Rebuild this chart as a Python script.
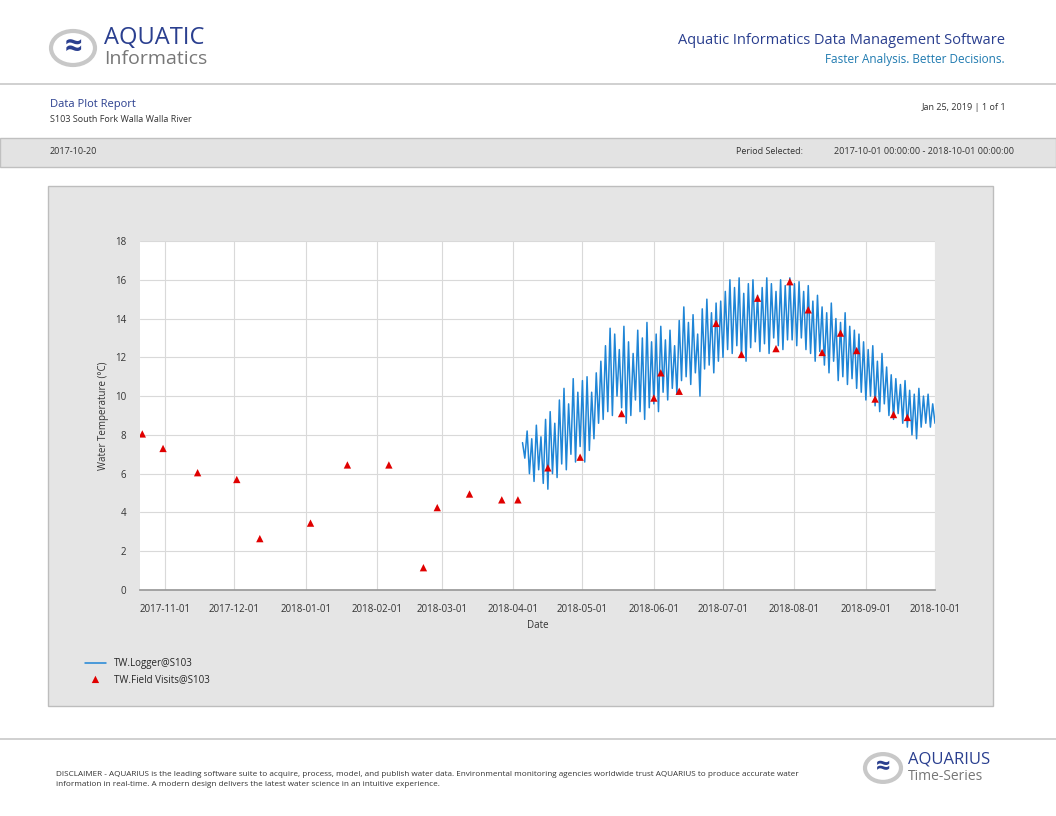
import numpy as np, pandas as pd, matplotlib
matplotlib.use("Agg")
import matplotlib.pyplot as plt, matplotlib.dates as mdates, seaborn as sns
from matplotlib.patches import Rectangle, Circle

visit_dates = ["2017-10-22","2017-10-31","2017-11-15","2017-12-02","2017-12-12","2018-01-03","2018-01-19",
 "2018-02-06","2018-02-21","2018-02-27","2018-03-13","2018-03-27","2018-04-03","2018-04-16","2018-04-30",
 "2018-05-18","2018-06-01","2018-06-04","2018-06-12","2018-06-28","2018-07-09","2018-07-16","2018-07-24",
 "2018-07-30","2018-08-07","2018-08-13","2018-08-21","2018-08-28","2018-09-05","2018-09-13","2018-09-19"]
visit_vals = [8.05,7.3,6.05,5.7,2.65,3.45,6.45,6.45,1.15,4.25,4.95,4.65,4.65,6.3,6.85,
 9.1,9.9,11.2,10.25,13.75,12.15,15.05,12.45,15.9,14.45,12.25,13.25,12.35,9.85,9.05,8.9]

logger_start = "2018-04-05"
logger_highs = [7.6,8.2,7.8,8.5,7.9,8.8,9.2,8.6,9.8,10.4,9.6,10.9,10.2,
 10.8,11.0,10.2,11.2,11.8,12.6,13.5,13.2,12.4,13.6,12.8,12.2,13.4,13.0,13.8,
 12.8,13.2,13.6,12.9,13.4,12.6,13.9,14.6,13.8,14.2,13.2,14.5,15.0,14.3,14.8,
 14.9,15.4,16.0,15.6,16.1,15.3,15.8,16.0,15.2,15.6,16.1,15.8,15.4,16.0,15.7,
 16.1,15.8,15.9,15.4,15.7,14.9,15.2,14.6,14.3,14.8,14.0,13.8,14.3,13.6,13.4,
 13.2,12.8,12.4,12.6,11.8,12.2,11.5,11.1,10.9,10.6,10.8,10.3,10.1,10.4,10.0,
 10.1,9.6]
logger_lows = [6.8,6.0,5.6,6.2,5.5,5.2,6.0,5.8,6.5,6.2,7.0,6.6,7.4,
 6.6,7.2,7.8,8.6,8.8,9.2,9.0,10.0,9.4,8.6,9.0,9.8,9.2,8.8,9.4,
 9.6,9.2,10.2,9.8,10.4,10.1,10.8,11.0,10.6,11.2,10.0,11.4,11.6,11.2,11.8,
 12.0,12.4,12.2,12.6,12.0,11.8,12.5,12.8,12.3,12.7,12.2,13.0,12.6,12.4,12.9,
 12.9,12.6,13.0,12.4,12.2,11.8,12.3,11.6,11.2,11.8,10.8,11.0,10.6,10.9,10.4,
 10.2,9.8,10.0,9.5,9.2,9.6,9.0,8.8,9.1,8.6,8.4,8.0,7.8,8.4,8.6,
 8.4,8.6]

vals = [v for pair in zip(logger_highs, logger_lows) for v in pair]
logger = pd.DataFrame({"t": pd.date_range(logger_start, periods=len(vals), freq="D"), "v": vals})
visits = pd.DataFrame({"t": pd.to_datetime(visit_dates), "v": visit_vals})

sns.set_theme(style="whitegrid")
plt.rcParams["font.family"] = ["Open Sans", "DejaVu Sans"]
fig = plt.figure(figsize=(10.56, 8.16), dpi=100)
W, H = 1056, 816
def fx(x): return x / W
def fy(y): return 1 - y / H

# header
fig.add_artist(plt.Line2D([0, 1], [fy(84)]*2, color="#c8c8c8", lw=1.2))
fig.add_artist(Circle((fx(73), fy(48)), 22/W, transform=fig.transFigure, fc="white", ec="#c8c8c8", lw=3))
fig.text(fx(73), fy(48), "≈", color="#2a3f8f", fontsize=22, ha="center", va="center", fontweight="bold")
fig.text(fx(104), fy(38), "AQUATIC", color="#2a3f8f", fontsize=17, va="center")
fig.text(fx(104), fy(59), "Informatics", color="#777777", fontsize=14, va="center")
fig.text(fx(1005), fy(41), "Aquatic Informatics Data Management Software", color="#2a3f8f", fontsize=10.5, ha="right", va="center")
fig.text(fx(1005), fy(60), "Faster Analysis. Better Decisions.", color="#1f7ab0", fontsize=8.5, ha="right", va="center")
fig.text(fx(50), fy(104), "Data Plot Report", color="#2a3f8f", fontsize=8, va="center")
fig.text(fx(50), fy(119), "S103 South Fork Walla Walla River", color="#333", fontsize=6.5, va="center")
fig.text(fx(1006), fy(107), "Jan 25, 2019 | 1 of 1", color="#333", fontsize=6.5, ha="right", va="center")
fig.add_artist(Rectangle((0, fy(167)), 1, (167-138)/H, transform=fig.transFigure, fc="#e3e3e3", ec="#c0c0c0", lw=1, zorder=-5))
fig.text(fx(50), fy(152), "2017-10-20", color="#333", fontsize=6.5, va="center")
fig.text(fx(803), fy(152), "Period Selected:", color="#333", fontsize=6.5, ha="right", va="center")
fig.text(fx(1014), fy(152), "2017-10-01 00:00:00 - 2018-10-01 00:00:00", color="#333", fontsize=6.5, ha="right", va="center")

# panel
fig.add_artist(Rectangle((fx(48), fy(706)), (993-48)/W, (706-186)/H, transform=fig.transFigure, fc="#e5e5e5", ec="#bdbdbd", lw=1, zorder=-5))

ax = fig.add_axes([fx(140), fy(590), (935-140)/W, (590-241)/H])
ax.set_zorder(2)
ax.set_facecolor("white")
sns.lineplot(data=logger, x="t", y="v", ax=ax, color="#1f85d6", lw=1.1, label="TW.Logger@S103", sort=False)
sns.scatterplot(data=visits, x="t", y="v", ax=ax, color="#e00000", marker="^", s=28, edgecolor="none", label="TW.Field Visits@S103", zorder=5)
ax.set_xlim(pd.Timestamp("2017-10-21"), pd.Timestamp("2018-10-01"))
ax.set_ylim(0, 18)
ax.set_yticks(range(0, 19, 2))
ax.xaxis.set_major_locator(mdates.MonthLocator(bymonth=range(1, 13)))
ax.xaxis.set_major_formatter(mdates.DateFormatter("%Y-%m-%d"))
ax.tick_params(labelsize=7, colors="#333", pad=4)
ax.grid(color="#d9d9d9", lw=0.8)
for s in ax.spines.values():
    s.set_visible(False)
ax.spines["bottom"].set_visible(True); ax.spines["bottom"].set_color("#999")
ax.set_xlabel("Date", fontsize=7, color="#333")
ax.set_ylabel("Water Temperature (°C)", fontsize=7, color="#333")
axw = (935-140)/W
ax.legend(loc="upper left", bbox_to_anchor=((fx(76) - fx(140)) / axw, -0.17),
          frameon=False, fontsize=7, handlelength=2.2, labelspacing=0.5)

# footer
fig.add_artist(plt.Line2D([0, 1], [fy(739)]*2, color="#c8c8c8", lw=1.2))
fig.text(fx(56), fy(779), "DISCLAIMER - AQUARIUS is the leading software suite to acquire, process, model, and publish water data. Environmental monitoring agencies worldwide trust AQUARIUS to produce accurate water\ninformation in real-time. A modern design delivers the latest water science in an intuitive experience.",
         fontsize=5.9, color="#333", va="center", linespacing=1.6)
fig.add_artist(Circle((fx(883), fy(768)), 18/W, transform=fig.transFigure, fc="white", ec="#c8c8c8", lw=3))
fig.text(fx(883), fy(768), "≈", color="#2a3f8f", fontsize=18, ha="center", va="center", fontweight="bold")
fig.text(fx(908), fy(760), "AQUARIUS", color="#2a3f8f", fontsize=12, va="center")
fig.text(fx(908), fy(777), "Time-Series", color="#777", fontsize=10, va="center")

fig.savefig("out.png", dpi=100)
